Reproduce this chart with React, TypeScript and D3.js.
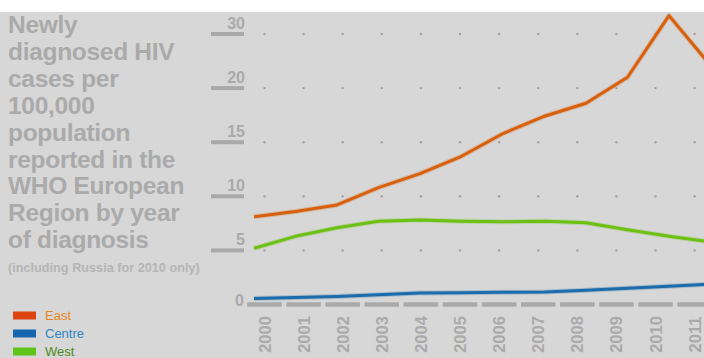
import React from "react";
import * as d3 from "d3";

const years = [2000, 2001, 2002, 2003, 2004, 2005, 2006, 2007, 2008, 2009, 2010, 2011];
const east = [8.1, 8.6, 9.2, 10.8, 12.1, 13.7, 15.8, 17.4, 18.6, 21.0, 26.7, 22.1];
const centre = [0.55, 0.64, 0.74, 0.91, 1.06, 1.09, 1.13, 1.16, 1.32, 1.51, 1.69, 1.88];
const west = [5.2, 6.3, 7.1, 7.7, 7.8, 7.7, 7.65, 7.7, 7.55, 6.9, 6.3, 5.8];
const tickValues = [0, 5, 10, 15, 20, 25];
const tickLabels = ["0", "5", "10", "15", "20", "30"];
const titleLines = [
  "Newly",
  "diagnosed HIV",
  "cases per",
  "100,000",
  "population",
  "reported in the",
  "WHO European",
  "Region by year",
  "of diagnosis",
];
const subtitle = "(including Russia for 2010 only)";
const legendItems = ["East", "Centre", "West"];

const W = 704;
const H = 358;
const FONT = "'Liberation Sans', Arial, Helvetica, sans-serif";
const GREY = "#aaaaaa";

export default function App() {
  const y = d3.scaleLinear().domain([0, 25]).range([304.5, 34]);
  const xLabel = d3.scaleLinear().domain([2000, 2011]).range([264.5, 694.6]);
  const xLine = d3.scaleLinear().domain([2000, 2010]).range([254, 669]);

  const series = [
    { name: "East", values: east, color: "#d8600d", swatch: "#dc4510", text: "#e8861e" },
    { name: "Centre", values: centre, color: "#1c6cab", swatch: "#1666b0", text: "#2f86c4" },
    { name: "West", values: west, color: "#6cc012", swatch: "#5fc41a", text: "#4c8a1c" },
  ];

  const line = d3
    .line<number>()
    .x((_, i) => xLine(years[i]))
    .y((d) => y(d));

  const dashW = 34.5;

  return (
    <svg
      width={W}
      height={H}
      style={{ position: "absolute", left: 0, top: 0, display: "block" }}
      fontFamily={FONT}
    >
      <rect x={0} y={0} width={W} height={H} fill="#ffffff" />
      <rect x={0} y={12} width={W} height={H - 12} fill="#d7d7d7" />

      {/* title */}
      {titleLines.map((t, i) => (
        <text
          key={t}
          x={8}
          y={33 + i * 26.9}
          fontSize={24.5}
          fontWeight="bold"
          fill={GREY}
          letterSpacing={-0.3}
        >
          {t}
        </text>
      ))}
      <text x={8} y={272} fontSize={12.7} fontWeight="bold" fill="#b5b5b5">
        {subtitle}
      </text>

      {/* legend */}
      {series.map((s, i) => (
        <g key={s.name} transform={`translate(0, ${311.5 + i * 18})`}>
          <rect x={13} y={0} width={23} height={8} fill={s.swatch} />
          <text x={45} y={8.5} fontSize={13} fill={s.text}>
            {legendItems[i]}
          </text>
        </g>
      ))}

      {/* grid dots */}
      {tickValues
        .filter((v) => v > 0)
        .map((v) =>
          years.map((yr) => (
            <circle key={`${v}-${yr}`} cx={xLabel(yr)} cy={y(v)} r={1.2} fill="#a2a2a2" />
          ))
        )}

      {/* y ticks */}
      {tickValues.map((v, i) =>
        v === 0 ? (
          <text key={v} x={244} y={y(v) + 1.5} textAnchor="end" fontSize={16} fontWeight="bold" fill={GREY}>
            {tickLabels[i]}
          </text>
        ) : (
          <g key={v}>
            <rect x={211} y={y(v) - 2} width={33} height={4} fill="#a9a9a9" />
            <text x={245} y={y(v) - 5} textAnchor="end" fontSize={16} fontWeight="bold" fill={GREY}>
              {tickLabels[i]}
            </text>
          </g>
        )
      )}

      {/* baseline dashes */}
      {years.map((yr) => (
        <rect
          key={`d${yr}`}
          x={xLabel(yr) - dashW / 2}
          y={y(0) - 2.2}
          width={dashW}
          height={4.4}
          fill="#a9a9a9"
        />
      ))}

      {/* year labels */}
      {years.map((yr) => (
        <text
          key={`l${yr}`}
          transform={`translate(${xLabel(yr)}, 334.5) rotate(-90)`}
          textAnchor="middle"
          dominantBaseline="central"
          fontSize={16.5}
          fontWeight="bold"
          fill={GREY}
        >
          {yr}
        </text>
      ))}

      {/* lines */}
      {series.map((s) => (
        <g key={`ln${s.name}`}>
          <path d={line(s.values) || ""} fill="none" stroke={s.color} strokeOpacity={0.25} strokeWidth={5} strokeLinejoin="round" />
          <path d={line(s.values) || ""} fill="none" stroke={s.color} strokeWidth={3} strokeLinejoin="round" />
        </g>
      ))}
    </svg>
  );
}
